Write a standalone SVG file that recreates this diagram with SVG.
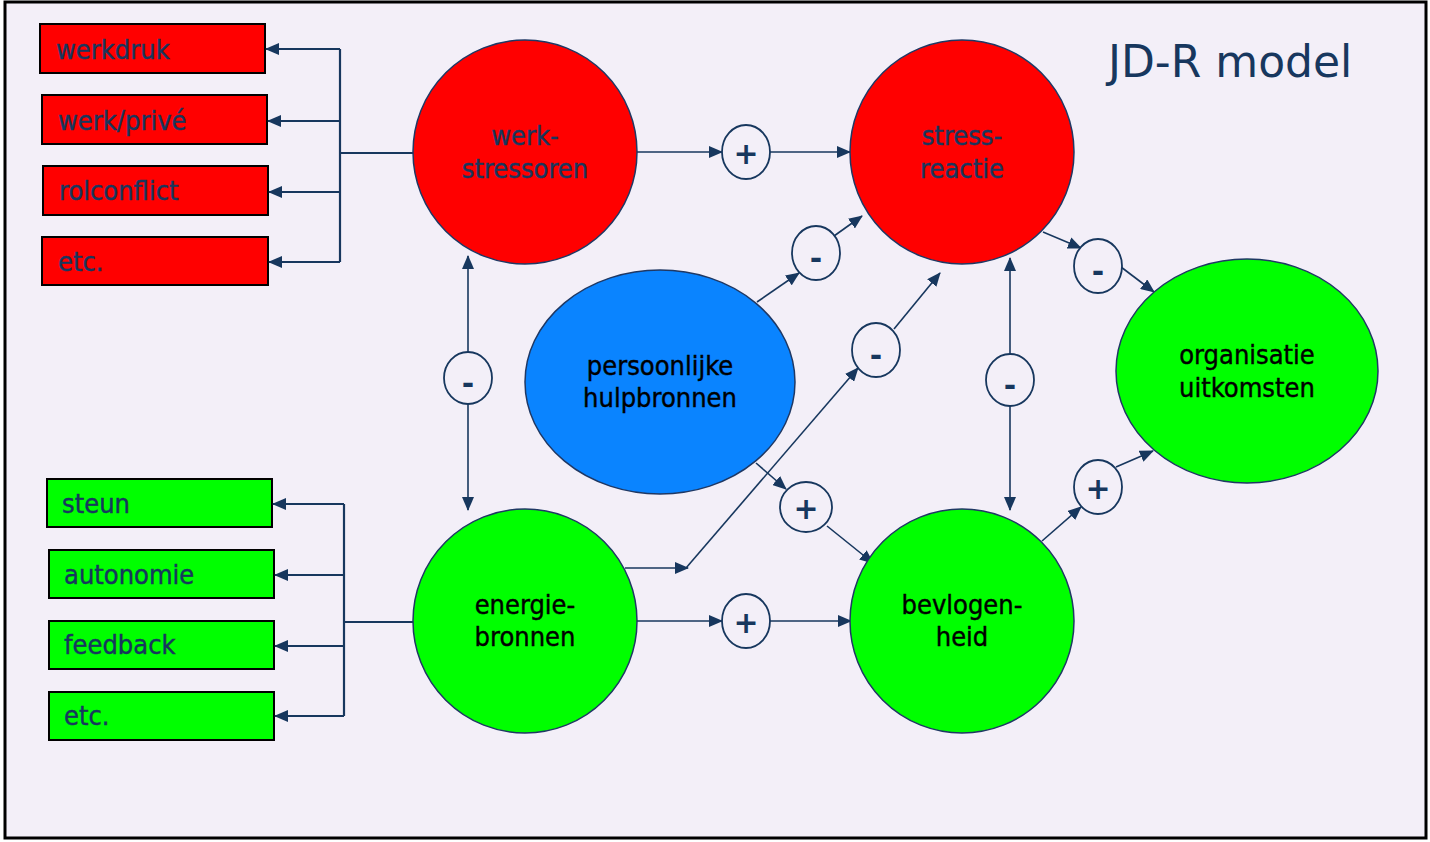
<svg xmlns="http://www.w3.org/2000/svg" width="1430" height="842" viewBox="0 0 1430 842">
<style>
.bg{fill:#F3EFF8;stroke:#000;stroke-width:3}
.rbox{fill:#FF0000;stroke:#000;stroke-width:2}
.gbox{fill:#00FF00;stroke:#000;stroke-width:2}
.rnode{fill:#FF0000;stroke:#1F3864;stroke-width:1.5}
.gnode{fill:#00FF00;stroke:#1F3864;stroke-width:1.5}
.bnode{fill:#0A84FF;stroke:#1F3864;stroke-width:1.5}
.sign{fill:#F3EFF8;stroke:#17375E;stroke-width:1.8}
.lbl{font-family:"DejaVu Sans Condensed","DejaVu Sans",sans-serif;font-stretch:condensed;font-size:27px;fill:#17375E;stroke:#17375E;stroke-width:0.4}
.nl{font-family:"DejaVu Sans Condensed","DejaVu Sans",sans-serif;font-stretch:condensed;font-size:27px;text-anchor:middle;stroke-width:0.4}
.navy{fill:#17375E;stroke:#17375E}
.blk{fill:#000;stroke:#000}
.st{font-family:"DejaVu Sans",sans-serif;font-size:30px;font-weight:bold;fill:#17375E;text-anchor:middle}
.c{fill:none;stroke:#17375E;stroke-width:1.6}
.t{fill:none;stroke:#17375E;stroke-width:2.2}
.title{font-family:"DejaVu Sans",sans-serif;font-size:44px;fill:#17375E}
</style>
<defs>
<marker id="ah" markerUnits="userSpaceOnUse" markerWidth="14" markerHeight="12" viewBox="0 0 14 12" refX="13" refY="6" orient="auto">
<path d="M0,0 L14,6 L0,12 Z" fill="#17375E"/>
</marker>
</defs>
<rect class="bg" x="5" y="2" width="1421" height="836"/>
<text class="title" x="1108" y="77">JD-R model</text>

<g id="box-werkdruk"><rect class="rbox" x="40" y="24" width="225" height="49"/><text class="lbl" x="56" y="59">werkdruk</text></g>
<g id="box-werkprive"><rect class="rbox" x="42" y="95" width="225" height="49"/><text class="lbl" x="58" y="130">werk/privé</text></g>
<g id="box-rolconflict"><rect class="rbox" x="43" y="166" width="225" height="49"/><text class="lbl" x="59" y="200">rolconflict</text></g>
<g id="box-etc1"><rect class="rbox" x="42" y="237" width="226" height="48"/><text class="lbl" x="58" y="271">etc.</text></g>

<g id="box-steun"><rect class="gbox" x="47" y="479" width="225" height="48"/><text class="lbl" x="62" y="513">steun</text></g>
<g id="box-autonomie"><rect class="gbox" x="49" y="550" width="225" height="48"/><text class="lbl" x="64" y="584">autonomie</text></g>
<g id="box-feedback"><rect class="gbox" x="49" y="621" width="225" height="48"/><text class="lbl" x="64" y="654">feedback</text></g>
<g id="box-etc2"><rect class="gbox" x="49" y="692" width="225" height="48"/><text class="lbl" x="64" y="725">etc.</text></g>

<g id="connectors">
<path class="t" d="M414,153 H340"/>
<path class="t" d="M340,49 V262"/>
<path class="t" d="M340,49 H266" marker-end="url(#ah)"/>
<path class="t" d="M340,121 H268" marker-end="url(#ah)"/>
<path class="t" d="M340,192 H269" marker-end="url(#ah)"/>
<path class="t" d="M340,262 H269" marker-end="url(#ah)"/>
<path class="t" d="M414,622 H344"/>
<path class="t" d="M344,504 V716"/>
<path class="t" d="M344,504 H273" marker-end="url(#ah)"/>
<path class="t" d="M344,575 H275" marker-end="url(#ah)"/>
<path class="t" d="M344,646 H275" marker-end="url(#ah)"/>
<path class="t" d="M344,716 H275" marker-end="url(#ah)"/>
<path class="c" d="M637,152 H722" marker-end="url(#ah)"/>
<path class="c" d="M770,152 H850" marker-end="url(#ah)"/>
<path class="c" d="M637,621 H722" marker-end="url(#ah)"/>
<path class="c" d="M770,621 H851" marker-end="url(#ah)"/>
<path class="c" d="M757,302 L799,273" marker-end="url(#ah)"/>
<path class="c" d="M834,236 L862,216" marker-end="url(#ah)"/>
<path class="c" d="M625,568 H688" marker-end="url(#ah)"/>
<path class="c" d="M686,568 L858,368" marker-end="url(#ah)"/>
<path class="c" d="M894,329 L940,273" marker-end="url(#ah)"/>
<path class="c" d="M756,463 L786,489" marker-end="url(#ah)"/>
<path class="c" d="M827,526 L873,563" marker-end="url(#ah)"/>
<path class="c" d="M468,352 V256" marker-end="url(#ah)"/>
<path class="c" d="M468,404 V510" marker-end="url(#ah)"/>
<path class="c" d="M1010,354 V258" marker-end="url(#ah)"/>
<path class="c" d="M1010,406 V510" marker-end="url(#ah)"/>
<path class="c" d="M1043,232 L1081,248" marker-end="url(#ah)"/>
<path class="c" d="M1121,267 L1154,292" marker-end="url(#ah)"/>
<path class="c" d="M1042,541 L1081,507" marker-end="url(#ah)"/>
<path class="c" d="M1116,467 L1153,451" marker-end="url(#ah)"/>
</g>

<g id="node-werkstressoren"><circle class="rnode" cx="525" cy="152" r="112"/><text class="nl navy" x="525" y="145">werk-</text><text class="nl navy" x="525" y="178">stressoren</text></g>
<g id="node-stressreactie"><circle class="rnode" cx="962" cy="152" r="112"/><text class="nl navy" x="962" y="145">stress-</text><text class="nl navy" x="962" y="178">reactie</text></g>
<g id="node-persoonlijke"><ellipse class="bnode" cx="660" cy="382" rx="135" ry="112"/><text class="nl blk" x="660" y="375">persoonlijke</text><text class="nl blk" x="660" y="407">hulpbronnen</text></g>
<g id="node-energiebronnen"><circle class="gnode" cx="525" cy="621" r="112"/><text class="nl blk" x="525" y="614">energie-</text><text class="nl blk" x="525" y="646">bronnen</text></g>
<g id="node-bevlogenheid"><circle class="gnode" cx="962" cy="621" r="112"/><text class="nl blk" x="962" y="614">bevlogen-</text><text class="nl blk" x="962" y="646">heid</text></g>
<g id="node-organisatie"><ellipse class="gnode" cx="1247" cy="371" rx="131" ry="112"/><text class="nl blk" x="1247" y="364">organisatie</text><text class="nl blk" x="1247" y="397">uitkomsten</text></g>

<g id="sign-plus-top"><ellipse class="sign" cx="746" cy="152" rx="24" ry="27"/><text class="st" x="746" y="164">+</text></g>
<g id="sign-min-pers-stress"><ellipse class="sign" cx="816" cy="253" rx="24" ry="27"/><text class="st" x="816" y="269">-</text></g>
<g id="sign-min-energ-stress"><ellipse class="sign" cx="876" cy="350" rx="24" ry="27"/><text class="st" x="876" y="366">-</text></g>
<g id="sign-min-left"><ellipse class="sign" cx="468" cy="378" rx="24" ry="26"/><text class="st" x="468" y="394">-</text></g>
<g id="sign-min-right"><ellipse class="sign" cx="1010" cy="380" rx="24" ry="26"/><text class="st" x="1010" y="396">-</text></g>
<g id="sign-min-stress-org"><ellipse class="sign" cx="1098" cy="266" rx="24" ry="27"/><text class="st" x="1098" y="282">-</text></g>
<g id="sign-plus-pers-bevl"><ellipse class="sign" cx="806" cy="507" rx="26" ry="25"/><text class="st" x="806" y="519">+</text></g>
<g id="sign-plus-bottom"><ellipse class="sign" cx="746" cy="621" rx="24" ry="27"/><text class="st" x="746" y="633">+</text></g>
<g id="sign-plus-bevl-org"><ellipse class="sign" cx="1098" cy="487" rx="24" ry="27"/><text class="st" x="1098" y="499">+</text></g>
</svg>
